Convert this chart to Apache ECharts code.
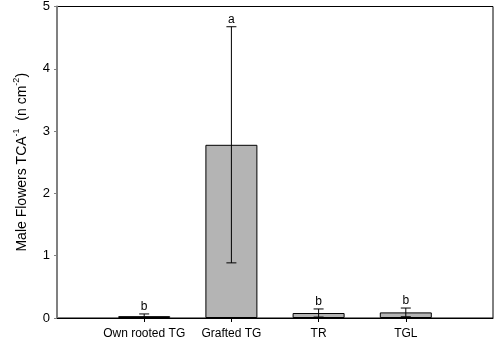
<!DOCTYPE html>
<html>
<head>
<meta charset="utf-8">
<script src="https://cdn.jsdelivr.net/npm/echarts@6/dist/echarts.min.js"></script>
<style>
html,body{margin:0;padding:0;background:#fff;}
#chart{width:501px;height:349px;}
</style>
</head>
<body>
<div id="chart"></div>
<script>
const categories = ['', 'Own rooted TG', 'Grafted TG', 'TR', 'TGL', ''];
const means = [null, 0.03, 2.78, 0.08, 0.09, null];
const errors = [null, 0.035, 1.895, 0.065, 0.07, null];
const letters = ['', 'b', 'a', 'b', 'b', ''];
const yTicks = [0, 1, 2, 3, 4, 5];

const errData = [];
for (let i = 0; i < categories.length; i++) {
  if (means[i] != null) errData.push([i, means[i] - errors[i], means[i] + errors[i], letters[i]]);
}

const chart = echarts.init(document.getElementById('chart'), null, {renderer: 'canvas'});
const font = 'Liberation Sans, Arial, sans-serif';
chart.setOption({
  animation: false,
  grid: {left: 57, right: 8, top: 5, bottom: 31, show: true, borderColor: '#000', borderWidth: 1, backgroundColor: 'transparent'},
  xAxis: {
    type: 'category',
    data: categories,
    boundaryGap: false,
    axisLine: {lineStyle: {color: '#000', width: 1}},
    axisTick: {length: 4, lineStyle: {color: '#000'}, interval: (i) => i > 0 && i < categories.length - 1},
    axisLabel: {color: '#000', fontFamily: font, fontSize: 12, margin: 10, interval: 0},
    splitLine: {show: false}
  },
  yAxis: {
    type: 'value',
    min: yTicks[0], max: yTicks[yTicks.length - 1], interval: 1,
    axisLine: {show: true, lineStyle: {color: '#808080', width: 2}},
    axisTick: {show: true, length: 3, lineStyle: {color: '#808080'}},
    axisLabel: {color: '#000', fontFamily: font, fontSize: 13, margin: 7},
    splitLine: {show: false},
    name: '{n|Male Flowers TCA}{s|-1}{n|  (n cm}{s|-2}{n|)}',
    nameLocation: 'middle',
    nameGap: 28,
    nameTextStyle: {
      color: '#000',
      rich: {
        n: {fontFamily: font, fontSize: 14, color: '#000', verticalAlign: 'bottom', lineHeight: 17},
        s: {fontFamily: font, fontSize: 9, color: '#000', verticalAlign: 'top', lineHeight: 17, padding: [0, 0, 8, 0]}
      }
    }
  },
  series: [
    {
      type: 'bar',
      data: means,
      barWidth: 52,
      itemStyle: {color: '#b4b4b4', borderColor: '#000', borderWidth: 1}
    },
    {
      type: 'custom',
      data: errData,
      encode: {x: 0, y: [1, 2]},
      renderItem: function (params, api) {
        const x = api.value(0);
        const lo = api.coord([x, api.value(1)]);
        const hi = api.coord([x, api.value(2)]);
        const hw = 5;
        const style = {stroke: '#000', lineWidth: 1};
        return {
          type: 'group',
          children: [
            {type: 'line', shape: {x1: lo[0], y1: lo[1], x2: hi[0], y2: hi[1]}, style: style},
            {type: 'line', shape: {x1: hi[0] - hw, y1: hi[1], x2: hi[0] + hw, y2: hi[1]}, style: style},
            {type: 'line', shape: {x1: lo[0] - hw, y1: lo[1], x2: lo[0] + hw, y2: lo[1]}, style: style},
            {type: 'text', style: {text: api.value(3), x: hi[0], y: hi[1] - 1, textAlign: 'center', textVerticalAlign: 'bottom', font: '12px ' + font, fill: '#000'}}
          ]
        };
      },
      z: 5
    }
  ]
});
</script>
</body>
</html>
